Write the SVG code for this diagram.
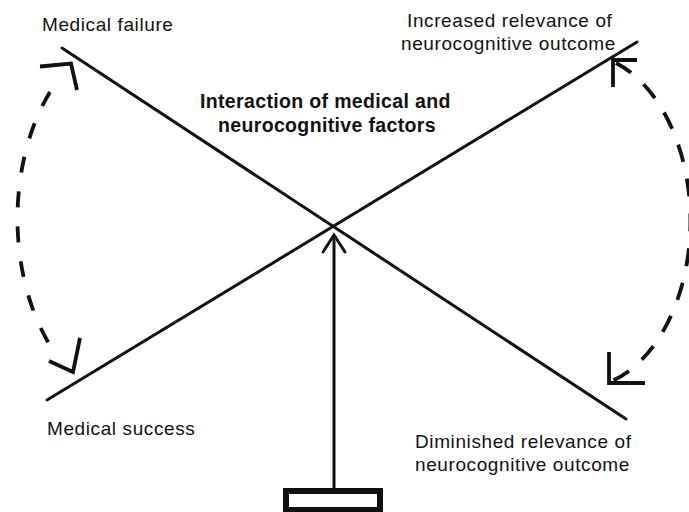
<svg xmlns="http://www.w3.org/2000/svg" width="689" height="512" viewBox="0 0 689 512">
<style>
.lbl{font-family:"Liberation Sans",Arial,Helvetica,sans-serif;font-size:19px;letter-spacing:0.6px;fill:#111}
.ttl{font-family:"Liberation Sans",Arial,Helvetica,sans-serif;font-size:19.5px;letter-spacing:0.35px;font-weight:bold;fill:#111}
.ln{stroke:#111;stroke-width:3;fill:none;stroke-linecap:round}
.dash{stroke:#111;stroke-width:3.8;fill:none;stroke-dasharray:16 19}
.head{stroke:#111;stroke-width:3.8;fill:none;stroke-linejoin:miter;stroke-linecap:butt}
</style>
<rect width="689" height="512" fill="#fff"/>
<g id="connectors">
  <line class="ln" x1="62" y1="48" x2="626" y2="419"/>
  <line class="ln" x1="47" y1="400" x2="637" y2="42"/>
  <line class="ln" x1="334" y1="236" x2="334" y2="488"/>
  <polyline class="ln" points="323,252 334,235 345,252"/>
  <path class="dash" d="M50,92 A120,185 0 0 0 55,353"/>
  <polyline class="head" points="40,66.5 71,63.5 77,90"/>
  <polyline class="head" points="49,361 73,372 80,338"/>
  <path class="dash" style="stroke-dasharray:18 17" d="M616,63 A110,167 0 0 1 612,381"/>
  <polyline class="head" points="637,60 613,60 613,87"/>
  <polyline class="head" points="609,352 609,383 645,383"/>
</g>
<g id="node-medical-failure"><text class="lbl" x="42" y="31">Medical failure</text></g>
<g id="node-increased-relevance">
  <text class="lbl" x="407" y="27">Increased relevance of</text>
  <text class="lbl" x="401" y="50">neurocognitive outcome</text>
</g>
<g id="node-interaction">
  <text class="ttl" x="200" y="108">Interaction of medical and</text>
  <text class="ttl" x="218" y="132">neurocognitive factors</text>
</g>
<g id="node-medical-success"><text class="lbl" x="47" y="435">Medical success</text></g>
<g id="node-diminished-relevance">
  <text class="lbl" x="415" y="448">Diminished relevance of</text>
  <text class="lbl" x="415" y="471">neurocognitive outcome</text>
</g>
<g id="node-box"><rect x="286" y="491" width="94" height="19" fill="#fff" stroke="#111" stroke-width="6"/></g>
</svg>
